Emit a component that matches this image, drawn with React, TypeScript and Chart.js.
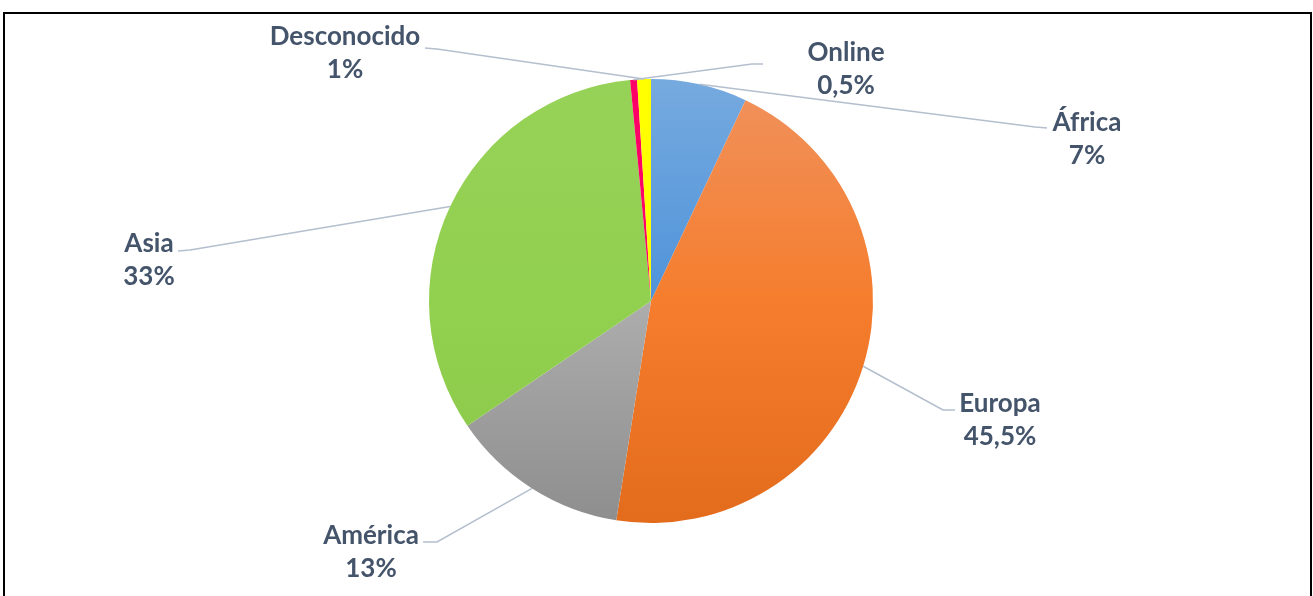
import React, { useEffect, useRef } from "react";
import { Chart, registerables } from "chart.js";

Chart.register(...registerables);

// ---- data ----
const categories: string[] = ["África", "Europa", "América", "Asia", "Online", "Desconocido"];
const shares: number[] = [7, 45.5, 13, 33, 0.5, 1];
const shareLabels: string[] = ["7%", "45,5%", "13%", "33%", "0,5%", "1%"];

// ---- styles ----
const gradientStops: string[][] = [
  ["#76AADF", "#4F93DA", "#3E84CD"],
  ["#F0925E", "#F57D2D", "#E36B1C"],
  ["#C6C6C6", "#ADADAD", "#8E8E8E"],
  ["#96D257", "#92D050", "#8BC849"],
  ["#FF0066", "#FF0066", "#FF0066"],
  ["#FFFF00", "#FFFF00", "#FFFF00"],
];

// label layout relative to pie centre: label centre, attach point, elbow
const labelLayout: { lx: number; ly: number; ax: number; ay: number; ex: number; ey: number }[] = [
  { lx: 436, ly: -163, ax: 396, ay: -173, ex: 384, ey: -174 },
  { lx: 349, ly: 118, ax: 304, ay: 109, ex: 292, ey: 109 },
  { lx: -280, ly: 250, ax: -228, ay: 241, ex: -214, ey: 241 },
  { lx: -502, ly: -42, ax: -473, ay: -50, ex: -461, ey: -51 },
  { lx: 195, ly: -233, ax: 112, ay: -237, ex: 101, ey: -237 },
  { lx: -306, ly: -248.5, ax: -226, ay: -253, ex: -214, ey: -252 },
];

const labelPlugin = {
  id: "pieLabels",
  afterDatasetsDraw(chart: any) {
    const ctx = chart.ctx;
    const meta = chart.getDatasetMeta(0);
    ctx.save();
    meta.data.forEach((arc: any, i: number) => {
      const p = arc.getProps(["x", "y", "startAngle", "endAngle", "outerRadius"], true);
      const mid = (p.startAngle + p.endAngle) / 2;
      const axp = p.x + Math.cos(mid) * p.outerRadius;
      const ayp = p.y + Math.sin(mid) * p.outerRadius;
      const L = labelLayout[i];
      ctx.strokeStyle = "#B4BFCE";
      ctx.lineWidth = 1.5;
      ctx.beginPath();
      ctx.moveTo(axp, ayp);
      ctx.lineTo(p.x + L.ex, p.y + L.ey);
      ctx.lineTo(p.x + L.ax, p.y + L.ay);
      ctx.stroke();

      ctx.fillStyle = "#44546A";
      ctx.font = "bold 26px Lato";
      ctx.textAlign = "center";
      ctx.textBaseline = "alphabetic";
      ctx.fillText(categories[i], p.x + L.lx, p.y + L.ly - 16.5 + 9);
      ctx.fillText(shareLabels[i], p.x + L.lx, p.y + L.ly + 16.5 + 9);
    });
    ctx.restore();
  },
};

export default function App() {
  const ref = useRef<HTMLCanvasElement | null>(null);

  useEffect(() => {
    if (!ref.current) return;
    const chart = new Chart(ref.current, {
      type: "pie",
      data: {
        labels: categories,
        datasets: [
          {
            data: shares,
            borderWidth: 0,
            backgroundColor: (c: any) => {
              const ch = c.chart;
              const area = ch.chartArea;
              const stops = gradientStops[c.dataIndex] || gradientStops[0];
              if (!area) return stops[1];
              const g = ch.ctx.createLinearGradient(0, area.top, 0, area.bottom);
              g.addColorStop(0, stops[0]);
              g.addColorStop(0.5, stops[1]);
              g.addColorStop(1, stops[2]);
              return g;
            },
          },
        ],
      },
      options: {
        responsive: false,
        animation: false,
        layout: { padding: { top: 79, bottom: 73, left: 200, right: 211 } },
        plugins: {
          legend: { display: false },
          tooltip: { enabled: false },
        },
      },
      plugins: [labelPlugin],
    });
    return () => chart.destroy();
  }, []);

  return (
    <div
      style={{
        position: "fixed",
        left: 0,
        top: 0,
        width: 1313,
        height: 596,
        overflow: "hidden",
        background: "#fff",
      }}
    >
      <div
        style={{
          position: "absolute",
          left: 3,
          top: 12,
          width: 1309,
          height: 620,
          boxSizing: "border-box",
          border: "2px solid #000",
        }}
      />
      <canvas
        ref={ref}
        width={1313}
        height={596}
        style={{ position: "absolute", left: 0, top: 0, width: 1313, height: 596 }}
      />
    </div>
  );
}
